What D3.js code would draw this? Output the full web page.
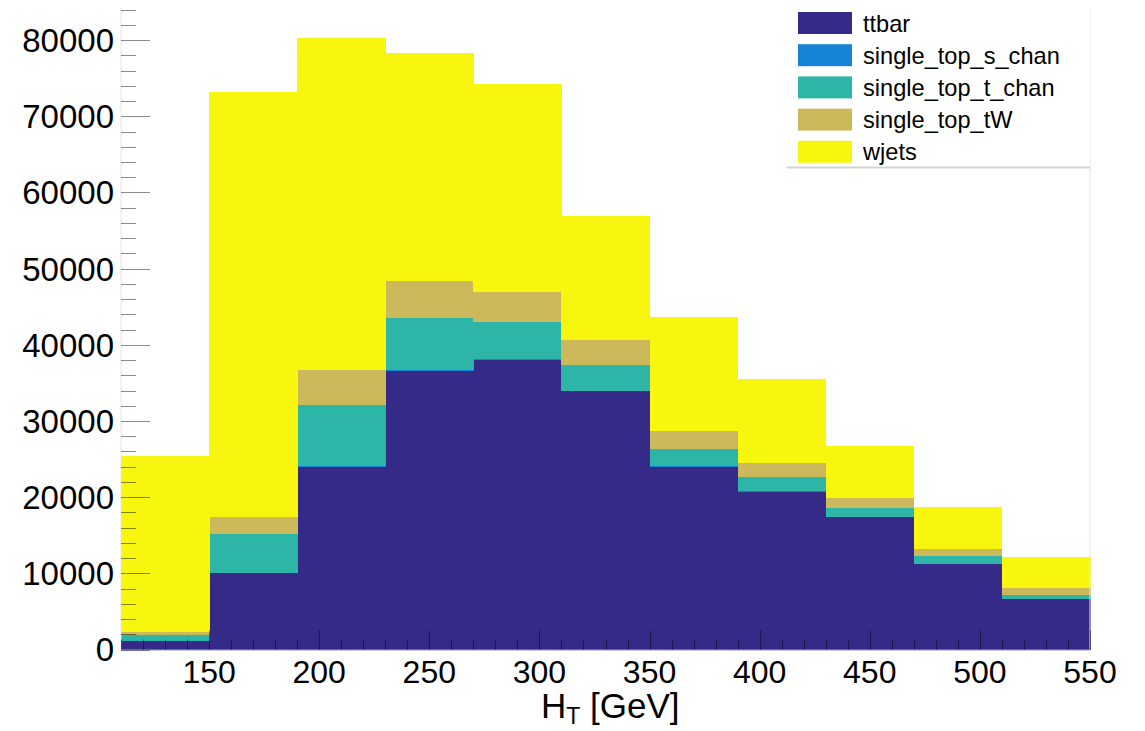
<!DOCTYPE html>
<html>
<head>
  <meta charset="utf-8">
  <script src="https://cdn.jsdelivr.net/npm/d3@7"></script>
  <title>H_T stack</title>
  <style>
    body { margin: 0; background: #fff; }
    text { font-family: "Liberation Sans", Arial, Helvetica, sans-serif; fill: #000; }
  </style>
</head>
<body>
<svg width="1145" height="731"></svg>
<script>

  // bin edges of the H_T histogram, GeV
  var binEdges = [ 110, 150, 190, 230, 270, 310, 350, 390, 430, 470, 510, 550 ];

  var samples = [ "ttbar", "single_top_s_chan", "single_top_t_chan", "single_top_tW", "wjets" ];

  // events per bin
  var ttbar       = [ 1080, 10000, 23960, 36600, 38010, 33900, 24000, 20720, 17360, 11190, 6630 ];
  var singleTopS  = [ 10, 50, 90, 120, 110, 100, 70, 60, 50, 30, 20 ];
  var singleTopT  = [ 770, 5110, 8090, 6840, 4920, 3390, 2250, 1870, 1170, 1020, 510 ];
  var singleTopTW = [ 400, 2190, 4550, 4820, 3930, 3240, 2410, 1870, 1310, 950, 870 ];
  var wjets       = [ 23180, 55880, 43620, 29970, 27270, 16320, 14960, 10950, 6830, 5480, 4070 ];

  var yTicks = [ 0, 10000, 20000, 30000, 40000, 50000, 60000, 70000, 80000 ];
  var xTicks = [ 150, 200, 250, 300, 350, 400, 450, 500, 550 ];

  var colors = [ "#352a87", "#1783d6", "#2db6a7", "#cbb95b", "#f8f50f" ];

  var frame = { left: 121, right: 1090, top: 8, bottom: 649.5 };

  var svg = d3.select( "svg" );

  var x = d3.scaleLinear().domain( [ 110, 550 ] ).range( [ frame.left, frame.right ] );
  var y = d3.scaleLinear().domain( [ 0, 84220 ] ).range( [ frame.bottom, frame.top ] );

  var series = [ ttbar, singleTopS, singleTopT, singleTopTW, wjets ];

  var rows = binEdges.slice( 0, -1 ).map( function ( lo, i )
  {
    var row = { lo: lo, hi: binEdges[i + 1] };
    samples.forEach( function ( s, k ) { row[s] = series[k][i]; } );
    return row;
  } );

  var stacked = d3.stack().keys( samples )( rows );

  svg.selectAll( "g.layer" ).data( stacked ).enter()
      .append( "g" )
      .attr( "class", "layer" )
      .attr( "fill", function ( d, i ) { return colors[i]; } )
      .attr( "shape-rendering", "crispEdges" )
      .selectAll( "rect" ).data( function ( d ) { return d; } ).enter()
      .append( "rect" )
      .attr( "x", function ( d ) { return x( d.data.lo ); } )
      .attr( "width", function ( d ) { return x( d.data.hi ) - x( d.data.lo ) + 0.5; } )
      .attr( "y", function ( d ) { return y( d[1] ); } )
      .attr( "height", function ( d ) { return y( d[0] ) - y( d[1] ); } );

  // faint frame edges
  svg.append( "path" )
      .attr( "stroke", "#e6e6e6" ).attr( "fill", "none" )
      .attr( "d", [ "M", frame.left, frame.bottom, "L", frame.left, frame.top,
                    "M", frame.right, frame.top, "L", frame.right, frame.bottom ].join( " " ) );
  svg.append( "line" )
      .attr( "x1", frame.left ).attr( "x2", frame.right )
      .attr( "y1", frame.bottom + 0.5 ).attr( "y2", frame.bottom + 0.5 )
      .attr( "stroke", "#9d98c9" );

  // y axis: ticks point into the frame
  var yMinor = d3.range( 0, 84221, 2000 );
  svg.append( "g" ).selectAll( "line" ).data( yMinor ).enter()
      .append( "line" )
      .attr( "x1", frame.left )
      .attr( "x2", function ( v ) { return frame.left + (v % 10000 === 0 ? 29 : 15); } )
      .attr( "y1", function ( v ) { return Math.round( y( v ) ) + 0.5; } )
      .attr( "y2", function ( v ) { return Math.round( y( v ) ) + 0.5; } )
      .attr( "stroke", "#000" ).attr( "stroke-opacity", 0.45 );

  svg.append( "g" ).selectAll( "text" ).data( yTicks ).enter()
      .append( "text" )
      .attr( "x", 114 )
      .attr( "y", function ( v ) { return y( v ); } )
      .attr( "dy", "0.36em" )
      .attr( "text-anchor", "end" )
      .attr( "font-size", 33 )
      .text( function ( v ) { return v; } );

  // x axis
  var xMinor = d3.range( 110, 551, 10 );
  svg.append( "g" ).selectAll( "line" ).data( xMinor ).enter()
      .append( "line" )
      .attr( "x1", function ( v ) { return Math.round( x( v ) ) + 0.5; } )
      .attr( "x2", function ( v ) { return Math.round( x( v ) ) + 0.5; } )
      .attr( "y1", frame.bottom )
      .attr( "y2", function ( v ) { return frame.bottom - (v % 50 === 0 ? 19 : 10); } )
      .attr( "stroke", "#000" ).attr( "stroke-opacity", 0.45 );

  svg.append( "g" ).selectAll( "text" ).data( xTicks ).enter()
      .append( "text" )
      .attr( "x", function ( v ) { return x( v ); } )
      .attr( "y", 683 )
      .attr( "text-anchor", "middle" )
      .attr( "font-size", 32 )
      .text( function ( v ) { return v; } );

  var title = svg.append( "text" )
      .attr( "x", 541 ).attr( "y", 718 )
      .attr( "font-size", 35 );
  title.append( "tspan" ).text( "H" );
  title.append( "tspan" ).attr( "font-size", 23 ).attr( "dy", 6 ).text( "T" );
  title.append( "tspan" ).attr( "dy", -6 ).text( " [GeV]" );

  // legend
  var legend = svg.append( "g" );
  legend.append( "rect" )
      .attr( "x", 787 ).attr( "y", 7 ).attr( "width", 303 ).attr( "height", 160 )
      .attr( "fill", "#fff" );
  legend.append( "line" )
      .attr( "x1", 787 ).attr( "x2", 1090 ).attr( "y1", 167.5 ).attr( "y2", 167.5 )
      .attr( "stroke", "#d2d2d2" ).attr( "stroke-width", 2 );

  var entries = legend.selectAll( "g.entry" ).data( samples ).enter()
      .append( "g" )
      .attr( "class", "entry" )
      .attr( "transform", function ( d, i ) { return "translate(0," + (23 + i * 32.2) + ")"; } );
  entries.append( "rect" )
      .attr( "x", 798 ).attr( "y", -11 ).attr( "width", 54 ).attr( "height", 22 )
      .attr( "fill", function ( d, i ) { return colors[i]; } );
  entries.append( "text" )
      .attr( "x", 863 ).attr( "dy", "0.36em" )
      .attr( "font-size", 23.6 )
      .text( function ( d ) { return d; } );
</script>
</body>
</html>
